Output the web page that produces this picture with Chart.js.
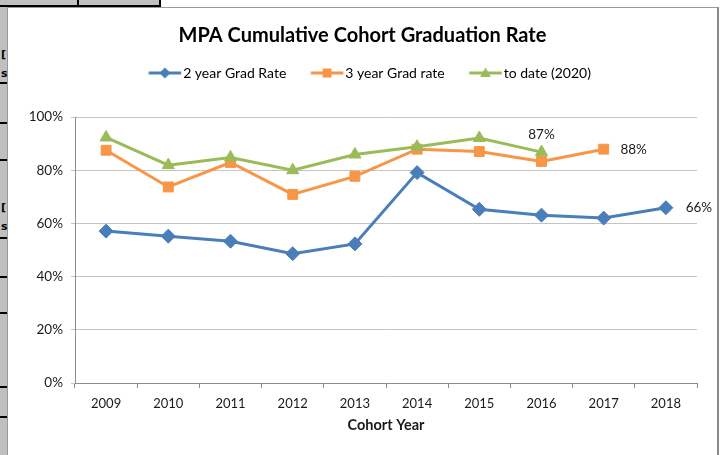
<!DOCTYPE html>
<html>
<head>
<meta charset="utf-8">
<title>MPA Cumulative Cohort Graduation Rate</title>
<script src="https://cdn.jsdelivr.net/npm/chart.js@4.4.0/dist/chart.umd.min.js"></script>
<style>
  html, body { margin: 0; padding: 0; background: #fff; width: 720px; height: 455px; overflow: hidden; }
  /* spreadsheet bits around the chart */
  .top-strip { position: absolute; left: 0; top: 0; width: 161px; height: 5px; background: #c0c0c0; border-bottom: 2px solid #000; }
  .top-strip .v { position: absolute; top: 0; width: 2px; height: 5px; background: #000; }
  .left-strip { position: absolute; left: 0; top: 7px; width: 7px; height: 448px; background: #c0c0c0; overflow: hidden; }
  .left-strip .h { position: absolute; left: 0; width: 7px; height: 2px; background: #000; }
  .left-strip span { position: absolute; left: 1px; font: bold 11px "DejaVu Sans", sans-serif; color: #000; }
  #frame { position: absolute; left: 7px; top: 7px; width: 709px; height: 448px; border-left: 1px solid #9a9a9a; border-top: 1px solid #9a9a9a; border-right: 2px solid #8a8a8a; background: #fff; }
</style>
</head>
<body>

<div class="top-strip"><div class="v" style="left:77px"></div><div class="v" style="left:159px"></div></div>
<div class="left-strip">
  <span style="top:41px">[</span><span style="top:60px">s</span>
  <div class="h" style="top:75px"></div>
  <div class="h" style="top:115px"></div>
  <div class="h" style="top:152px"></div>
  <span style="top:194px">[</span><span style="top:213px">s</span>
  <div class="h" style="top:230px"></div>
  <div class="h" style="top:269px"></div>
  <div class="h" style="top:305px"></div>
  <div class="h" style="top:379px"></div>
  <div class="h" style="top:409px"></div>
</div>

<div id="frame"><canvas id="gradChart"></canvas></div>

<script>
// chart data
const cohortYears = ["2009", "2010", "2011", "2012", "2013", "2014", "2015", "2016", "2017", "2018"];
const twoYearRate = [57.1, 55.2, 53.3, 48.6, 52.3, 79.1, 65.3, 63.1, 62.0, 65.9];
const threeYearRate = [87.5, 73.7, 82.9, 70.9, 77.7, 87.9, 87.0, 83.3, 87.9, null];
const toDateRate = [92.3, 81.9, 84.8, 80.0, 85.9, 88.8, 92.1, 86.8, null, null];
const yTicks = [0, 20, 40, 60, 80, 100];

const seriesNames = ["2 year Grad Rate", "3 year Grad rate", "to date (2020)"];

const BLUE = "#4A7EBB";
const ORANGE = "#F79646";
const GREEN = "#9BBB59";
const FONT = "Lato";

// legend icon: line with marker in the middle (Excel style)
const ICON_BOX = 42;
function legendIcon(color, style) {
    const c = document.createElement("canvas");
    c.width = ICON_BOX + 12;
    c.height = 14;
    const g = c.getContext("2d");
    const x0 = 20.5, x1 = 53, cy = 7, mx = (x0 + x1) / 2;
    g.strokeStyle = color;
    g.lineWidth = 3;
    g.beginPath();
    g.moveTo(x0, cy);
    g.lineTo(x1, cy);
    g.stroke();
    g.fillStyle = color;
    g.beginPath();
    if (style === "rectRot") {
        g.moveTo(mx - 5.5, cy); g.lineTo(mx, cy - 5.5); g.lineTo(mx + 5.5, cy); g.lineTo(mx, cy + 5.5);
    } else if (style === "rect") {
        g.rect(mx - 4.5, cy - 4.5, 9, 9);
    } else {
        g.moveTo(mx, cy - 5.5); g.lineTo(mx + 5.5, cy + 4); g.lineTo(mx - 5.5, cy + 4);
    }
    g.closePath();
    g.fill();
    return c;
}

// push the plot down under the legend
const legendSpacer = {
    id: "legendSpacer",
    beforeInit(chart) {
        const fit = chart.legend.fit;
        chart.legend.fit = function () {
            fit.call(this);
            this.height += 27;
        };
    }
};

// the three value labels at the ends of the lines
const endLabels = {
    id: "endLabels",
    afterDatasetsDraw(chart) {
        const picks = [
            { ds: 2, i: 7, dx: 0, dy: -17 },
            { ds: 1, i: 8, dx: 30, dy: 0 },
            { ds: 0, i: 9, dx: 33, dy: 0 }
        ];
        const ctx = chart.ctx;
        ctx.save();
        ctx.font = "13.5px " + FONT;
        ctx.fillStyle = "#1a1a1a";
        ctx.textAlign = "center";
        ctx.textBaseline = "middle";
        picks.forEach(p => {
            const el = chart.getDatasetMeta(p.ds).data[p.i];
            const v = chart.data.datasets[p.ds].data[p.i];
            ctx.fillText(Math.round(v) + "%", el.x + p.dx, el.y + p.dy);
        });
        ctx.restore();
    }
};

function series(label, data, color, style, order) {
    return {
        label: label,
        data: data,
        borderColor: color,
        backgroundColor: color,
        borderWidth: 3,
        pointStyle: style,
        pointRadius: 7,
        pointHoverRadius: 7,
        pointBorderWidth: 1,
        pointBackgroundColor: color,
        pointBorderColor: color,
        tension: 0,
        order: order,
        clip: false
    };
}

const ctx = document.getElementById("gradChart").getContext("2d");

new Chart(ctx, {
    type: "line",
    data: {
        labels: cohortYears,
        datasets: [
            series(seriesNames[0], twoYearRate, BLUE, "rectRot", 3),
            series(seriesNames[1], threeYearRate, ORANGE, "rect", 2),
            series(seriesNames[2], toDateRate, GREEN, "triangle", 1)
        ]
    },
    options: {
        responsive: true,
        maintainAspectRatio: false,
        animation: false,
        layout: { padding: { left: 20, right: 20, top: 0, bottom: 0 } },
        plugins: {
            title: {
                display: true,
                text: "MPA Cumulative Cohort Graduation Rate",
                color: "#000",
                font: { family: FONT, size: 20, weight: "bold", lineHeight: 1.2 },
                padding: { top: 16, bottom: 8 }
            },
            legend: {
                display: true,
                labels: {
                    usePointStyle: true,
                    pointStyleWidth: ICON_BOX,
                    padding: 10,
                    color: "#1a1a1a",
                    font: { family: FONT, size: 14 },
                    generateLabels(chart) {
                        const icons = [legendIcon(BLUE, "rectRot"), legendIcon(ORANGE, "rect"), legendIcon(GREEN, "triangle")];
                        return chart.data.datasets.map((d, i) => ({
                            text: d.label,
                            pointStyle: icons[i],
                            fillStyle: d.borderColor,
                            strokeStyle: d.borderColor,
                            lineWidth: 0,
                            datasetIndex: i,
                            hidden: false
                        }));
                    }
                }
            },
            tooltip: { enabled: false }
        },
        scales: {
            x: {
                offset: true,
                grid: { display: true, drawOnChartArea: false, offset: true, tickLength: 5, color: "#8c8c8c" },
                border: { color: "#8c8c8c" },
                ticks: { color: "#1a1a1a", padding: 8, font: { family: FONT, size: 13 }, maxRotation: 0 },
                title: {
                    display: true,
                    text: "Cohort Year",
                    color: "#1a1a1a",
                    font: { family: FONT, size: 14.5, weight: "bold" },
                    padding: { top: 0, bottom: 22 }
                },
                afterFit(scale) { scale.height = 73; }
            },
            y: {
                min: 0,
                max: 100,
                afterBuildTicks(scale) { scale.ticks = yTicks.map(v => ({ value: v })); },
                grid: { color: "#c4c4c4", tickLength: 4 },
                border: { color: "#8c8c8c" },
                ticks: {
                    color: "#1a1a1a",
                    padding: 8,
                    font: { family: FONT, size: 13.5 },
                    callback: v => v + "%"
                },
                afterFit(scale) { scale.width = 47; }
            }
        }
    },
    plugins: [legendSpacer, endLabels]
});
</script>
</body>
</html>
